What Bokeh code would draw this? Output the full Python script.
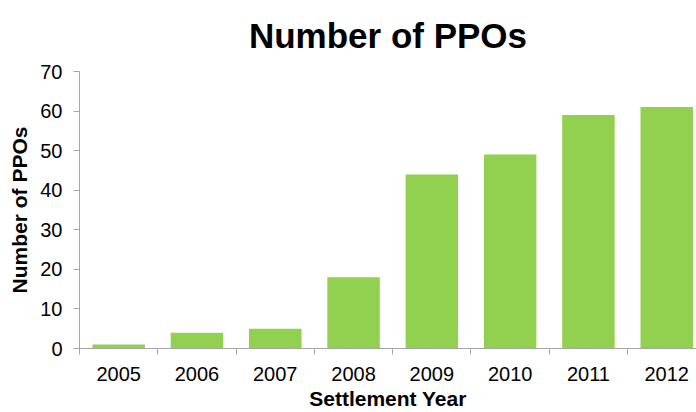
from bokeh.plotting import figure
from bokeh.models import Range1d, FixedTicker, Title
from bokeh.embed import file_html
from bokeh.resources import INLINE

years = ["2005", "2006", "2007", "2008", "2009", "2010", "2011", "2012"]
counts = [1, 4, 5, 18, 44, 49, 59, 61]
y_ticks = [0, 10, 20, 30, 40, 50, 60, 70]

xs = [i + 0.5 for i in range(len(years))]

FONT = "Liberation Sans"
AXIS_GRAY = "#a6a6a6"

p = figure(width=696, height=412, output_backend="svg", toolbar_location=None,
           x_range=Range1d(0, 7.88), y_range=Range1d(0, 70),
           min_border_left=79, min_border_right=0, min_border_top=71,
           min_border_bottom=64)

p.title = Title(text="Number of PPOs", align="center", text_font=FONT,
                text_font_size="35px", text_font_style="bold", text_color="black",
                standoff=29, vertical_align="top")

p.vbar(x=xs, top=counts, width=0.67, color="#92D050", line_color=None)

p.outline_line_color = None
p.xgrid.grid_line_color = None
p.ygrid.grid_line_color = None
p.background_fill_color = "white"
p.border_fill_color = "white"

# x axis
p.xaxis.ticker = FixedTicker(ticks=xs, minor_ticks=list(range(0, len(years))))
p.xaxis.major_label_overrides = {x: y for x, y in zip(xs, years)}
p.xaxis.major_tick_out = 0
p.xaxis.major_tick_in = 0
p.xaxis.minor_tick_out = 6
p.xaxis.minor_tick_in = 0
p.xaxis.minor_tick_line_color = AXIS_GRAY
p.xaxis.axis_line_color = AXIS_GRAY
p.xaxis.major_label_text_font = FONT
p.xaxis.major_label_text_font_size = "20px"
p.xaxis.major_label_text_color = "black"
p.xaxis.major_label_standoff = 12
p.xaxis.axis_label = "Settlement Year"
p.xaxis.axis_label_text_font = FONT
p.xaxis.axis_label_text_font_size = "21px"
p.xaxis.axis_label_text_font_style = "bold"
p.xaxis.axis_label_text_color = "black"
p.xaxis.axis_label_standoff = 3

# y axis
p.yaxis.ticker = FixedTicker(ticks=y_ticks, minor_ticks=[])
p.yaxis.major_tick_out = 6
p.yaxis.major_tick_in = 0
p.yaxis.major_tick_line_color = AXIS_GRAY
p.yaxis.axis_line_color = AXIS_GRAY
p.yaxis.major_label_text_font = FONT
p.yaxis.major_label_text_font_size = "20px"
p.yaxis.major_label_text_color = "black"
p.yaxis.major_label_standoff = 11
p.yaxis.axis_label = "Number of PPOs"
p.yaxis.axis_label_text_font = FONT
p.yaxis.axis_label_text_font_size = "21px"
p.yaxis.axis_label_text_font_style = "bold"
p.yaxis.axis_label_text_color = "black"
p.yaxis.axis_label_standoff = 6

open("out.html", "w").write(file_html(p, INLINE))
